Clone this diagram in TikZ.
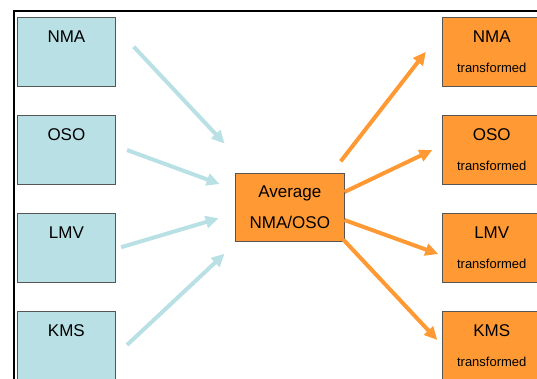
\documentclass[tikz,border=0pt]{standalone}
\usepackage{fontspec}
\setmainfont{Liberation Sans}
\usetikzlibrary{calc,arrows.meta}

\definecolor{boxblue}{RGB}{185,224,228}
\definecolor{boxorange}{RGB}{255,153,51}
\definecolor{boxline}{RGB}{85,85,85}

\begin{document}
\begin{tikzpicture}[
                x=1pt,y=1pt,
                inbox/.style={draw=boxline,line width=0.8pt,fill=boxblue,align=center,
                  minimum width=98.5pt,minimum height=68.5pt,inner sep=0pt,
                  font=\fontsize{17}{30.7}\selectfont},
                outbox/.style={inbox,fill=boxorange},
                avgbox/.style={inbox,fill=boxorange,minimum width=108.3pt,minimum height=68.4pt},
                inarrow/.style={boxblue,line width=4pt,-{Triangle[length=13pt,width=12pt]}},
                outarrow/.style={inarrow,boxorange}] %

\useasboundingbox (0,0) rectangle (537,-379);

% frame
\draw[line width=2.5pt] (14,-385) -- (14,-11) -- (545,-11);

                    % inputs
                    \node[inbox] (NMA) at (66.4,-51.75) {NMA\\\mbox{}}; % 1
                    \node[inbox] (OSO) at (66.4,-149.75) {OSO\\\mbox{}}; % 2
                    \node[inbox] (LMV) at (66.4,-247.75) {LMV\\\mbox{}}; % 3
                    \node[inbox] (KMS) at (66.4,-345.75) {KMS\\\mbox{}}; % 4

                    % average
                    \node[avgbox] (AVG) at (289.85,-207.5) {Average\\NMA/OSO};

                    % outputs
                    \node[outbox] (NMAT) at (491.75,-51.75) {NMA\\{\fontsize{13}{15}\selectfont transformed}}; % 1
                    \node[outbox] (OSOT) at (491.75,-149.75) {OSO\\{\fontsize{13}{15}\selectfont transformed}}; % 2
                    \node[outbox] (LMVT) at (491.75,-247.75) {LMV\\{\fontsize{13}{15}\selectfont transformed}}; % 3
                    \node[outbox] (KMST) at (491.75,-345.75) {KMS\\{\fontsize{13}{15}\selectfont transformed}}; % 4

%%%%%%%%%%%%%%%%%%%%%%%%%%%%%%%%%%%%%%%%%%%%%%%%%%%%%%%%%%%%%%%%%%%%%%%%%%%%%%%%%%%%

% in
\draw[inarrow] ($(NMA.east)+(17.7,5)$) -- ($(AVG.north west)+(-10.7,29.3)$);
\draw[inarrow] ($(OSO.east)+(11,-0.3)$) -- ($(AVG.west)+(-15.7,23.5)$);
\draw[inarrow] ($(LMV.east)+(5,0.5)$) -- ($(AVG.west)+(-16.7,-10.8)$);
\draw[inarrow] ($(KMS.east)+(11,0.8)$) -- ($(AVG.south west)+(-10.7,-11.6)$);

% out
\draw[outarrow] ($(AVG.north east)+(-3.7,11.6)$) -- ($(NMAT.west)+(-16.2,0)$);
\draw[outarrow] ($(AVG.east)+(0,15.5)$) -- ($(OSOT.west)+(-9.8,-0.3)$);
\draw[outarrow] ($(AVG.east)+(0,-12.5)$) -- ($(LMVT.west)+(-3.8,-6.3)$);
\draw[outarrow] ($(AVG.south east)+(-1,2.4)$) -- ($(KMST.west)+(-4.8,5.8)$);

\end{tikzpicture}
\end{document}
